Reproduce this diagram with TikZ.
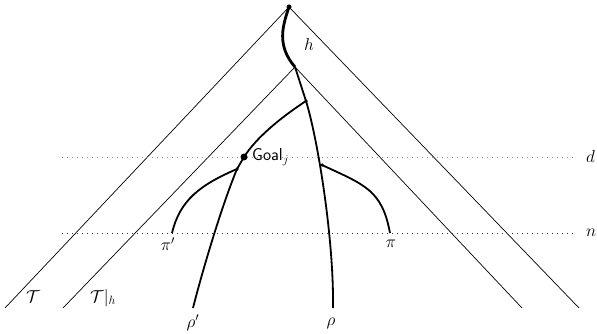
\documentclass[tikz,border=0pt]{standalone}
\begin{document}
\begin{tikzpicture}[x=1pt,y=-1pt,
  thinline/.style={line width=0.7pt},
  pathline/.style={line width=1.8pt},
  lbl/.style={font=\LARGE, inner sep=0pt},
  dotline/.style={dash pattern=on 0.9pt off 4.1pt, line width=0.9pt},
  pt/.style={circle, fill=black, inner sep=0pt, minimum size=4pt},
  anchorpt/.style={inner sep=0pt, minimum size=0pt}]
\useasboundingbox (0,0) rectangle (597,334);
% triangles
\coordinate (A) at (289,7);
\coordinate (AL) at (5,308);
\coordinate (AR) at (579,308);
\coordinate (B) at (295,67);
\coordinate (BL) at (63,308);
\coordinate (BR) at (522,308);
\draw[thinline] (AL) -- (A) -- (AR);
\draw[thinline] (BL) -- (B) -- (BR);
% dotted lines
\coordinate (d1) at (62,157);
\coordinate (d2) at (576,157);
\coordinate (n1) at (62,233);
\coordinate (n2) at (576,233);
\draw[dotline, black!45] (d1) -- (d2);
\draw[dotline, black!80] (n1) -- (n2);
\node[lbl, anchor=west] (dl) at (586,157) {$d$};
\node[lbl, anchor=west] (nl) at (586,233) {$n$};
% path nodes
\node[pt, minimum size=5pt] (top) at (A) {};
\node[anchorpt] (hpt) at (B) {};
\node[pt, minimum size=3.5pt] (s1) at (306,101) {};
\node[pt, minimum size=7pt] (goal) at (244,157) {};
\node[pt, minimum size=3.5pt] (s2) at (237,169) {};
\node[pt, minimum size=3.5pt] (s3) at (322,165) {};
\coordinate (pip) at (172,233);
\coordinate (pi) at (390,233);
\coordinate (rhop) at (193,308);
\coordinate (rho) at (333,308);
% thick path
\draw[line width=2.8pt] (top.center) .. controls (283,25) and (276,45) .. (hpt.center);
\draw[pathline] (hpt.center) -- (s1.center);
\draw[pathline] (s1.center) .. controls (280,118) and (256,138) .. (goal.center) -- (s2.center);
\draw[pathline] (s2.center) .. controls (200,185) and (180,200) .. (pip);
\draw[pathline] (s2.center) .. controls (220,210) and (200,280) .. (rhop);
\draw[pathline] (s1.center) .. controls (318,140) and (334,240) .. (rho);
\draw[pathline] (s3.center) .. controls (365,185) and (382,190) .. (pi);
% labels
\node[lbl] (hl) at (309,45) {$h$};
\node[lbl, anchor=west] (gl) at (252,157) {\textsf{Goal}$_j$};
\node[lbl] (pipl) at (168,244) {$\pi'$};
\node[lbl] (pil) at (391,244) {$\pi$};
\node[lbl] (rhopl) at (193,323) {$\rho'$};
\node[lbl] (rhol) at (331,323) {$\rho$};
\node[lbl] (Tl) at (33,297) {$\mathcal{T}$};
\node[lbl] (Thl) at (103,298) {$\mathcal{T}|_h$};
\end{tikzpicture}
\end{document}
